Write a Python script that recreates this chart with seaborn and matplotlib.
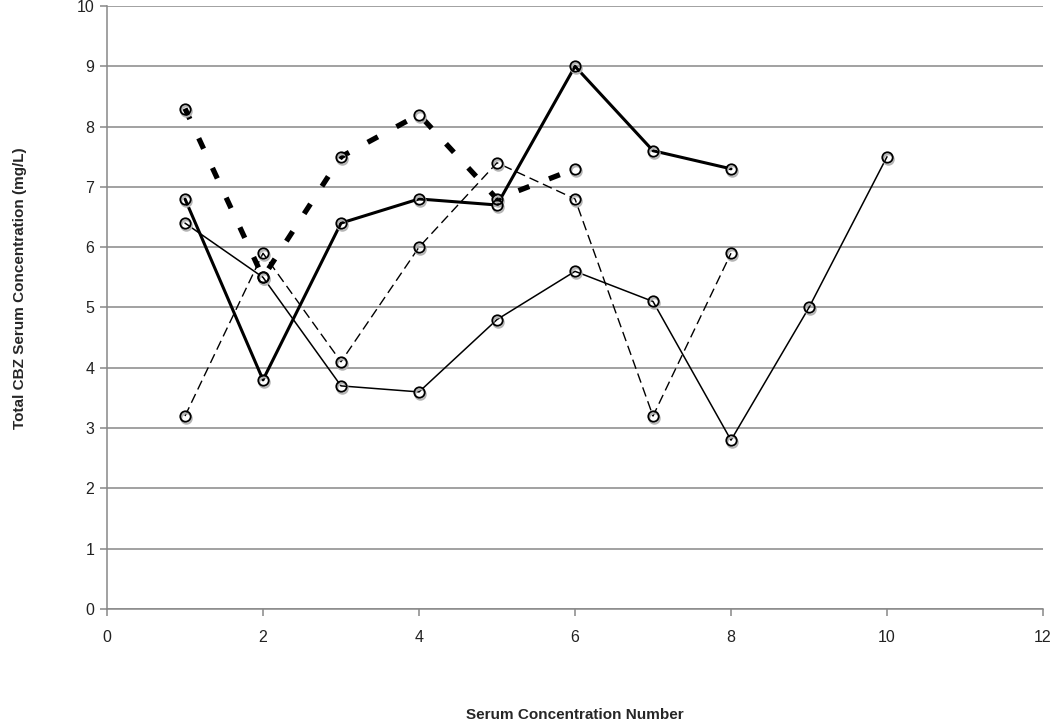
import matplotlib
matplotlib.use("Agg")
import matplotlib.pyplot as plt
import matplotlib.transforms as mtransforms
import seaborn as sns
import pandas as pd

sns.set_style("white")
plt.rcParams['font.family'] = ['Liberation Sans', 'DejaVu Sans']

x_a = [1, 2, 3, 4, 5, 6, 7, 8, 9, 10]
y_a = [6.4, 5.5, 3.7, 3.6, 4.8, 5.6, 5.1, 2.8, 5.0, 7.5]
x_b = [1, 2, 3, 4, 5, 6, 7, 8]
y_b = [6.8, 3.8, 6.4, 6.8, 6.7, 9.0, 7.6, 7.3]
x_c = [1, 2, 3, 4, 5, 6]
y_c = [8.3, 5.5, 7.5, 8.2, 6.8, 7.3]
x_d = [1, 2, 3, 4, 5, 6, 7, 8]
y_d = [3.2, 5.9, 4.1, 6.0, 7.4, 6.8, 3.2, 5.9]

x_ticks = [0, 2, 4, 6, 8, 10, 12]
y_ticks = [0, 1, 2, 3, 4, 5, 6, 7, 8, 9, 10]

fig = plt.figure(figsize=(10.5, 7.22), dpi=100)
ax = fig.add_axes([107/1050, 113/722, 936/1050, 603/722])

styles = [
    (x_a, y_a, 1.1, None),
    (x_b, y_b, 2.2, None),
    (x_c, y_c, 3.8, (2.2, 4.0)),
    (x_d, y_d, 1.0, (7, 3.6)),
]

shadow = mtransforms.offset_copy(ax.transData, fig=fig, x=0.5, y=-2, units='dots')
for xs, ys, lw, dash in styles:
    df = pd.DataFrame({"x": xs, "y": ys})
    sns.lineplot(data=df, x="x", y="y", ax=ax, color="black", linewidth=lw,
                 zorder=3, legend=False)
    line = ax.lines[-1]
    if dash is not None:
        line.set_dashes(dash)
        line.set_dash_capstyle('butt')
    ax.plot(xs, ys, linestyle='none', marker='o', markersize=7.5,
            markerfacecolor='none', markeredgecolor='#b5b5b5',
            markeredgewidth=1.5, transform=shadow, zorder=4)
    ax.plot(xs, ys, linestyle='none', marker='o', markersize=7.5,
            markerfacecolor='none', markeredgecolor='black',
            markeredgewidth=1.3, zorder=5)

ax.set_xlim(0, 12)
ax.set_ylim(0, 10)
ax.set_xticks(x_ticks)
ax.set_yticks(y_ticks)
ax.set_xticklabels([str(v) for v in x_ticks])
ax.set_yticklabels([str(v) for v in y_ticks])
ax.yaxis.grid(True, color='#888888', linewidth=1.1)
ax.set_axisbelow(True)
for s in ['top', 'right']:
    ax.spines[s].set_visible(False)
for s in ['left', 'bottom']:
    ax.spines[s].set_color('#888888')
    ax.spines[s].set_linewidth(1.1)
ax.tick_params(axis='both', direction='out', length=5, width=1.1,
               color='#888888', labelsize=11.5, labelcolor='#222222',
               bottom=True, left=True)
ax.tick_params(axis='x', pad=10)
ax.tick_params(axis='y', pad=4)

ax.set_xlabel("Serum Concentration Number", fontsize=11, fontweight='bold')
ax.xaxis.set_label_coords(0.5, (609 - 715) / 603)
ax.xaxis.label.set_va('center')
ax.set_ylabel("Total CBZ Serum Concentration (mg/L)", fontsize=11,
              fontweight='bold')
ax.yaxis.set_label_coords((20 - 107) / 936, (609 - 288) / 603)
ax.yaxis.label.set_va('center')

fig.savefig("out.png", dpi=100)
